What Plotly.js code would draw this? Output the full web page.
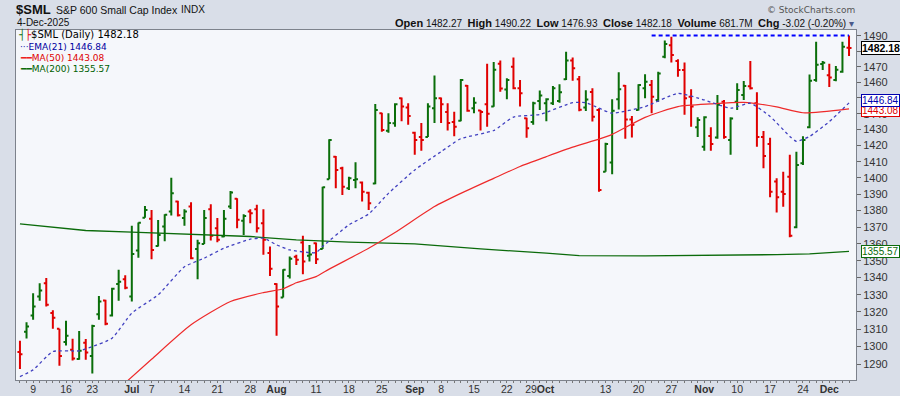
<!DOCTYPE html>
<html>
<head>
<meta charset="utf-8">
<script src="https://cdn.plot.ly/plotly-3.0.1.min.js"></script>
<style>
  html, body { margin: 0; padding: 0; background: #d9dee8; }
  #chart { width: 900px; height: 396px; }
</style>
</head>
<body>
<div id="chart"></div>
<script>
// ---------- DATA ----------
const dates = [
  '2025-06-05','2025-06-06','2025-06-09','2025-06-10','2025-06-11','2025-06-12','2025-06-13','2025-06-16','2025-06-17','2025-06-18','2025-06-20','2025-06-23','2025-06-24','2025-06-25','2025-06-26','2025-06-27','2025-06-30',
  '2025-07-01','2025-07-02','2025-07-03','2025-07-07','2025-07-08','2025-07-09','2025-07-10','2025-07-11','2025-07-14','2025-07-15','2025-07-16','2025-07-17','2025-07-18','2025-07-21','2025-07-22','2025-07-23','2025-07-24','2025-07-25','2025-07-28','2025-07-29','2025-07-30','2025-07-31',
  '2025-08-01','2025-08-04','2025-08-05','2025-08-06','2025-08-07','2025-08-08','2025-08-11','2025-08-12','2025-08-13','2025-08-14','2025-08-15','2025-08-18','2025-08-19','2025-08-20','2025-08-21','2025-08-22','2025-08-25','2025-08-26','2025-08-27','2025-08-28','2025-08-29',
  '2025-09-02','2025-09-03','2025-09-04','2025-09-05','2025-09-08','2025-09-09','2025-09-10','2025-09-11','2025-09-12','2025-09-15','2025-09-16','2025-09-17','2025-09-18','2025-09-19','2025-09-22','2025-09-23','2025-09-24','2025-09-25','2025-09-26','2025-09-29','2025-09-30',
  '2025-10-01','2025-10-02','2025-10-03','2025-10-06','2025-10-07','2025-10-08','2025-10-09','2025-10-10','2025-10-13','2025-10-14','2025-10-15','2025-10-16','2025-10-17','2025-10-20','2025-10-21','2025-10-22','2025-10-23','2025-10-24','2025-10-27','2025-10-28','2025-10-29','2025-10-30','2025-10-31',
  '2025-11-03','2025-11-04','2025-11-05','2025-11-06','2025-11-07','2025-11-10','2025-11-11','2025-11-12','2025-11-13','2025-11-14','2025-11-17','2025-11-18','2025-11-19','2025-11-20','2025-11-21','2025-11-24','2025-11-25','2025-11-26','2025-11-28',
  '2025-12-01','2025-12-02','2025-12-03','2025-12-04'
];

const openVals = [
  1297.0,1308.6,1317.9,1328.9,1336.7,1319.4,1310.2,1302.7,1298.2,1293.0,1302.2,1294.7,1318.6,1326.6,1317.9,1336.3,1339.0,
  1328.9,1356.0,1375.7,1375.1,1358.8,1370.4,1379.4,1385.5,1375.6,1382.5,1357.0,1360.0,1380.8,1369.4,1364.4,1382.5,1387.2,1373.9,1379.4,1380.8,1372.4,1354.5,
  1336.3,1328.3,1341.0,1352.3,1360.8,1353.0,1360.4,1357.0,1399.1,1413.1,1405.9,1393.6,1398.7,1397.1,1390.9,1396.6,1440.3,1429.3,1433.9,1449.8,1443.9,
  1428.0,1425.3,1425.3,1443.5,1449.8,1441.0,1434.8,1435.6,1457.8,1443.5,1442.0,1446.0,1444.6,1472.0,1455.4,1470.0,1456.1,1437.1,1434.8,1448.0,1446.6,
  1446.6,1448.0,1462.0,1474.0,1462.0,1444.0,1453.8,1442.4,1403.8,1409.4,1449.2,1457.8,1436.4,1442.4,1456.1,1458.3,1448.7,1476.5,1484.0,1473.7,1467.9,1450.8,1431.4,
  1419.3,1426.0,1425.0,1447.6,1423.4,1447.6,1451.9,1457.5,1446.6,1425.3,1421.0,1397.7,1391.5,1400.7,1370.0,1409.0,1431.4,1461.5,1471.7,
  1464.5,1461.5,1466.8,1482.27
];
const highVals = [
  1303.3,1314.0,1330.9,1336.7,1339.8,1321.0,1310.3,1314.8,1304.5,1309.0,1304.3,1312.5,1329.3,1327.0,1334.0,1344.6,1341.4,
  1370.8,1372.8,1382.8,1380.4,1374.4,1377.8,1400.0,1386.0,1380.8,1385.1,1362.4,1380.4,1383.9,1375.6,1380.4,1392.0,1387.5,1377.8,1380.8,1383.5,1380.8,1358.4,
  1336.7,1345.0,1352.5,1353.5,1364.8,1359.4,1360.8,1394.6,1423.9,1413.5,1406.9,1400.7,1409.6,1397.7,1391.5,1446.2,1440.6,1440.3,1446.6,1450.2,1446.6,
  1428.7,1434.2,1446.6,1464.3,1450.2,1446.6,1441.3,1462.1,1458.3,1450.4,1442.4,1472.0,1473.0,1474.0,1462.6,1476.0,1461.5,1437.5,1447.6,1454.8,1449.8,
  1457.6,1458.7,1479.7,1476.0,1464.0,1454.9,1456.1,1443.5,1421.8,1449.2,1466.4,1458.3,1438.6,1458.7,1465.2,1461.5,1466.8,1487.0,1489.5,1474.8,1472.8,1455.5,1437.7,
  1438.4,1431.4,1451.9,1448.7,1437.7,1459.3,1460.8,1473.7,1453.7,1429.1,1424.9,1399.7,1403.8,1414.2,1416.2,1425.8,1465.0,1486.2,1473.7,
  1472.0,1470.5,1486.2,1490.22
];
const lowVals = [
  1287.3,1304.6,1315.5,1326.4,1323.1,1310.3,1289.2,1300.6,1292.1,1292.5,1292.5,1284.7,1315.5,1312.3,1317.3,1326.4,1333.2,
  1326.0,1351.8,1375.7,1350.9,1358.4,1361.6,1377.0,1376.4,1370.8,1350.9,1339.1,1360.0,1362.0,1361.0,1364.0,1381.0,1369.4,1365.3,1372.4,1366.8,1353.5,1341.0,
  1306.3,1328.3,1339.5,1347.5,1342.0,1349.5,1348.1,1357.0,1399.1,1393.6,1389.5,1392.6,1393.6,1385.5,1380.4,1396.1,1428.7,1428.0,1431.8,1435.3,1433.0,
  1414.2,1416.8,1425.3,1434.2,1434.2,1429.4,1425.8,1435.2,1441.3,1440.3,1429.4,1431.8,1444.4,1454.0,1449.2,1455.5,1444.5,1424.9,1433.0,1442.4,1435.2,
  1445.5,1447.0,1461.5,1461.0,1441.5,1441.7,1435.0,1391.5,1403.8,1402.2,1442.6,1424.3,1425.1,1442.0,1449.8,1440.3,1447.6,1475.5,1472.8,1463.6,1439.4,1431.8,1425.3,
  1416.8,1416.8,1424.3,1424.3,1414.2,1442.4,1448.7,1455.4,1419.3,1405.9,1388.1,1378.8,1382.4,1364.0,1369.4,1408.0,1430.8,1460.4,1467.9,
  1457.0,1460.6,1466.2,1476.93
];
const closeVals = [
  1295.7,1311.5,1323.1,1332.4,1324.2,1316.6,1294.7,1306.3,1293.2,1297.6,1296.6,1311.9,1326.0,1313.1,1333.4,1337.5,1334.0,
  1353.9,1372.6,1380.4,1356.4,1365.3,1377.5,1390.5,1377.2,1379.4,1351.5,1360.4,1375.6,1364.8,1362.4,1375.1,1391.1,1374.5,1376.8,1378.4,1369.4,1362.4,1345.3,
  1323.1,1344.6,1351.1,1350.5,1349.5,1353.6,1350.9,1394.2,1423.4,1404.9,1394.6,1399.7,1399.1,1391.5,1384.5,1442.4,1429.7,1434.2,1446.0,1444.5,1438.6,
  1423.4,1423.4,1444.5,1449.8,1446.0,1434.2,1431.7,1461.5,1441.9,1447.0,1441.0,1440.0,1468.0,1456.0,1461.5,1456.1,1453.0,1430.8,1446.6,1451.5,1449.2,
  1456.1,1453.7,1474.0,1469.0,1442.5,1449.0,1438.1,1392.6,1421.0,1441.9,1455.5,1436.4,1433.0,1458.3,1460.4,1450.8,1465.7,1484.7,1477.6,1467.9,1449.8,1444.5,1436.0,
  1437.7,1421.0,1445.6,1425.3,1437.0,1455.0,1457.6,1456.1,1425.3,1413.5,1391.5,1388.1,1390.1,1364.8,1408.0,1423.4,1461.0,1471.2,1472.5,
  1463.0,1468.0,1483.0,1482.18
];

// Indicator lines at sample dates
const emaDates = ['2025-06-05','2025-06-09','2025-06-12','2025-06-18','2025-06-23','2025-06-26','2025-07-01','2025-07-08','2025-07-14','2025-07-17','2025-07-22','2025-07-28','2025-07-30','2025-08-01','2025-08-05','2025-08-11','2025-08-12','2025-08-18','2025-08-21','2025-08-26','2025-09-02','2025-09-08','2025-09-11','2025-09-18','2025-09-23','2025-09-29','2025-10-06','2025-10-08','2025-10-10','2025-10-14','2025-10-21','2025-10-28','2025-11-03','2025-11-07','2025-11-12','2025-11-17','2025-11-20','2025-11-21','2025-11-25','2025-12-01','2025-12-04'];
const emaVals  = [1283.0,1286.8,1297.2,1297.6,1300.0,1304.8,1319.3,1329.9,1346.4,1351.5,1357.4,1362.8,1363.4,1359.4,1356.4,1354.8,1358.5,1371.4,1378.0,1390.5,1404.9,1416.2,1424.3,1429.4,1437.9,1439.5,1447.0,1447.0,1443.5,1440.3,1444.5,1452.9,1448.7,1443.5,1446.6,1438.3,1425.7,1422.6,1425.7,1435.0,1446.84];

const ma50Dates = ['2025-06-30','2025-07-07','2025-07-15','2025-07-23','2025-07-30','2025-08-04','2025-08-06','2025-08-11','2025-08-13','2025-08-21','2025-08-27','2025-09-05','2025-09-11','2025-09-18','2025-09-24','2025-09-30','2025-10-06','2025-10-10','2025-10-14','2025-10-21','2025-10-28','2025-11-04','2025-11-11','2025-11-18','2025-11-24','2025-12-04'];
const ma50Vals  = [1279.5,1292.8,1312.5,1326.0,1331.2,1333.5,1337.0,1340.6,1345.0,1357.4,1366.8,1382.5,1390.5,1399.7,1407.0,1413.1,1419.0,1424.0,1427.0,1437.7,1444.5,1446.2,1447.2,1444.3,1440.6,1443.08];

const ma200Dates = ['2025-06-05','2025-06-20','2025-07-01','2025-07-14','2025-07-28','2025-08-06','2025-08-18','2025-09-02','2025-09-16','2025-09-30','2025-10-07','2025-10-21','2025-11-04','2025-11-18','2025-11-25','2025-12-04'];
const ma200Vals  = [1372.0,1368.0,1367.0,1366.0,1364.4,1362.4,1361.0,1360.0,1357.0,1354.5,1353.0,1352.8,1353.0,1353.6,1354.0,1355.57];

const highLineDates = ['2025-10-22','2025-12-04'];
const highLineVals  = [1490.22,1490.22];

const xTickDates = ['2025-06-09','2025-06-16','2025-06-23','2025-07-01','2025-07-07','2025-07-14','2025-07-21','2025-07-28','2025-08-01','2025-08-11','2025-08-18','2025-08-25','2025-09-02','2025-09-08','2025-09-15','2025-09-22','2025-09-29','2025-10-13','2025-10-20','2025-10-27','2025-11-03','2025-11-10','2025-11-17','2025-11-24','2025-12-01'];
const xTickLabels = ['9','16','23','<b>Jul</b>','7','14','21','28','<b>Aug</b>','11','18','25','<b>Sep</b>','8','15','22','29<b>Oct</b>','13','20','27','<b>Nov</b>','10','17','24','<b>Dec</b>'];
const yTicks = [1290,1300,1310,1320,1330,1340,1350,1360,1370,1380,1390,1400,1410,1420,1430,1440,1450,1460,1470,1480,1490];
const yTickHidden = [1480]; // covered by the last-price tag in the reference

const symbol = '$SML';
const symbolName = 'S&P 600 Small Cap Index';
const exchange = 'INDX';
const asOf = '4-Dec-2025';
const quote = {open: '1482.27', high: '1490.22', low: '1476.93', close: '1482.18', volume: '681.7M', chg: '-3.02 (-0.20%)'};
const lastClose = 1482.18, lastEma = 1446.84, lastMa50 = 1443.08, lastMa200 = 1355.57;

// ---------- STYLE / LAYOUT ----------
const GREEN = '#0a6e0a', RED = '#e00000';
const PL = 16, PR = 856, PT = 30, PB = 380;
const px = x => (x - PL) / (PR - PL);
const py = y => (PB - y) / (PB - PT);
const L10 = Math.log10;

const traces = [
  {type: 'scatter', mode: 'lines', x: ma200Dates, y: ma200Vals, line: {color: '#0b6b0b', width: 1.3}, hoverinfo: 'skip'},
  {type: 'scatter', mode: 'lines', x: ma50Dates, y: ma50Vals, line: {color: '#ee2a2a', width: 1.2, shape: 'spline', smoothing: 0.6}, hoverinfo: 'skip'},
  {type: 'scatter', mode: 'lines', x: emaDates, y: emaVals, line: {color: '#4040c0', width: 1.3, dash: 'dot', shape: 'spline', smoothing: 0.5}, hoverinfo: 'skip'},
  {type: 'ohlc', x: dates, open: openVals, high: highVals, low: lowVals, close: closeVals,
   increasing: {line: {color: GREEN, width: 2}}, decreasing: {line: {color: RED, width: 2}},
   tickwidth: 0.38, hoverinfo: 'skip'},
  {type: 'scatter', mode: 'lines', x: highLineDates, y: highLineVals, line: {color: '#0000ff', width: 2, dash: '4px,3px'}, hoverinfo: 'skip'}
];

const legFont = {family: 'DejaVu Sans, Verdana, sans-serif', size: 9};
const ann = [];
function addText(text, x, y, font, xanchor) {
  ann.push({text: text, xref: 'paper', yref: 'paper', x: px(x), y: py(y), xanchor: xanchor || 'left', yanchor: 'middle', showarrow: false, font: font});
}
addText('<b>' + symbol + '</b>', 14, 10, {family: 'Liberation Sans, Arial', size: 13, color: '#111'});
addText(symbolName, 54, 10, {family: 'Liberation Sans, Arial', size: 10.5, color: '#111'});
addText(exchange, 179, 10, {family: 'Liberation Sans, Arial', size: 10, color: '#111'});
addText(asOf, 15, 22.5, {family: 'Liberation Sans, Arial', size: 10, color: '#111'});
addText('\u00a9 StockCharts.com', 857, 9.5, {family: 'DejaVu Sans, Verdana', size: 9, color: '#555'}, 'right');
const q = (lab, val) => '<b style="font-size:11px">' + lab + '</b> ' + val;
addText(q('Open', quote.open) + '  ' + q('High', quote.high) + '  ' + q('Low', quote.low) + '  ' + q('Close', quote.close) + '  ' + q('Volume', quote.volume) + '  ' + q('Chg', quote.chg) + ' <span style="color:#4a5a8a">\u25BE</span>',
        856, 22.5, {family: 'Liberation Sans, Arial', size: 10, color: '#111'}, 'right');

addText('<span style="color:' + GREEN + '">\u2524</span><span style="color:' + RED + '">\u251C</span>' + symbol + ' (Daily) ' + lastClose.toFixed(2), 17, 35, {family: legFont.family, size: 10, color: '#000'});
addText('<span style="color:#1a1aa8">\u00b7\u00b7\u00b7</span>EMA(21) ' + lastEma.toFixed(2), 18, 46.5, Object.assign({}, legFont, {color: '#0000a0'}));
addText('<span style="color:#ee2020">\u2501\u2501</span>MA(50) ' + lastMa50.toFixed(2), 18, 57.5, Object.assign({}, legFont, {color: '#dd0000'}));
addText('<span style="color:#0b6b0b">\u2501\u2501</span>MA(200) ' + lastMa200.toFixed(2), 18, 69, Object.assign({}, legFont, {color: '#006000'}));

function valueTag(v, color, bold, yshift) {
  ann.push({text: bold ? '<b>' + v.toFixed(2) + '</b>' : v.toFixed(2), xref: 'paper', yref: 'y', x: 1, y: L10(v), xanchor: 'left', yanchor: 'middle', xshift: 5, yshift: yshift || 0,
    showarrow: false, bgcolor: '#ffffff', bordercolor: color, borderwidth: 1, borderpad: 0,
    font: {family: 'Liberation Sans, Arial', size: bold ? 10.5 : 10, color: color}});
}
valueTag(lastMa200, '#0b6b0b', false);
valueTag(lastMa50, '#e00000', false, -2);
valueTag(lastEma, '#0000b0', false, 2);
valueTag(lastClose, '#000000', true);

// x ticks: a small mark on every trading day, labels only on the chosen days
const xTickText = dates.map(d => { const i = xTickDates.indexOf(d); return i >= 0 ? xTickLabels[i] : ''; });

const layout = {
  width: 900, height: 396,
  margin: {l: PL, r: 900 - PR, t: PT, b: 396 - PB, pad: 0},
  paper_bgcolor: '#d9dee8', plot_bgcolor: '#f5f7fb',
  showlegend: false,
  font: {family: 'Liberation Sans, Arial, sans-serif', size: 10, color: '#333'},
  xaxis: {
    type: 'category', categoryorder: 'array', categoryarray: dates,
    range: [-0.6, dates.length + 0.06],
    tickmode: 'array', tickvals: dates, ticktext: xTickText,
    ticks: 'outside', ticklen: 2, tickcolor: '#777', tickfont: {size: 10.5, color: '#333'},
    ticklabelstandoff: -3,
    showline: true, linecolor: '#7d828c', linewidth: 1, mirror: true,
    showgrid: false, zeroline: false, rangeslider: {visible: false}, fixedrange: true
  },
  yaxis: {
    type: 'log', side: 'right',
    range: [L10(1281.1), L10(1493.9)],
    tickmode: 'array', tickvals: yTicks, ticktext: yTicks.map(v => yTickHidden.includes(v) ? '' : String(v)),
    ticks: 'outside', ticklen: 4, tickcolor: '#666', tickfont: {size: 11, color: '#333'},
    showline: true, linecolor: '#7d828c', linewidth: 1, mirror: true,
    showgrid: false, zeroline: false, fixedrange: true
  },
  annotations: ann
};

Plotly.newPlot('chart', traces, layout, {staticPlot: true, displayModeBar: false});
</script>
</body>
</html>
